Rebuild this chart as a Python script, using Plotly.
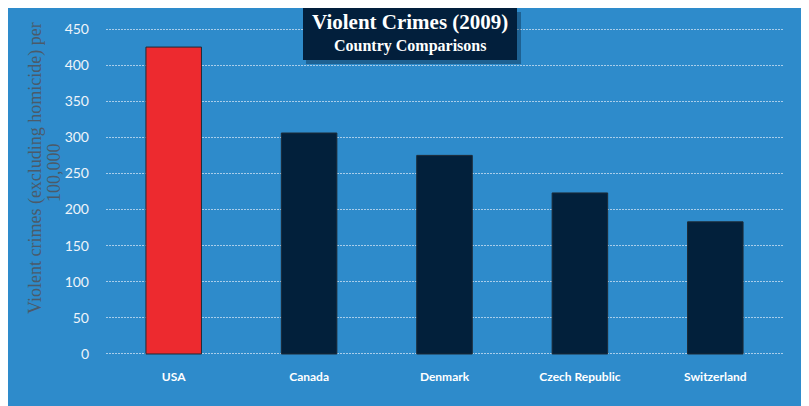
import plotly.graph_objects as go

countries = ["USA", "Canada", "Denmark", "Czech Republic", "Switzerland"]
crimes = [425, 306, 275, 223, 183]
bar_colors = ["#ed2a2f", "#02203b", "#02203b", "#02203b", "#02203b"]
y_ticks = [0, 50, 100, 150, 200, 250, 300, 350, 400, 450]

W, H = 809, 406
OFF = 8  # page body margin offset
L, T = 98, 20
pw, ph = 677, 327
R = W - L - pw
B = H - T - ph

def px_x(p):
    return (p - OFF - L) / pw

def px_y(p):
    return (T + ph - (p - OFF)) / ph

fig = go.Figure()
fig.add_trace(go.Bar(
    x=countries, y=crimes,
    marker=dict(color=bar_colors, line=dict(color="#1e2a36", width=1)),
    width=0.41,
))

shapes = [
    dict(type="rect", xref="paper", yref="paper",
         x0=px_x(306), x1=px_x(521), y0=px_y(64), y1=px_y(12),
         fillcolor="rgba(0,20,40,0.35)", line=dict(width=0), layer="above"),
    dict(type="rect", xref="paper", yref="paper",
         x0=px_x(303), x1=px_x(517), y0=px_y(60), y1=px_y(8),
         fillcolor="#021f3c", line=dict(width=0), layer="above"),
]

annotations = [
    dict(text="<b>Violent Crimes (2009)</b>", xref="paper", yref="paper",
         x=px_x(410), y=px_y(22), xanchor="center", yanchor="middle",
         showarrow=False, font=dict(family="Liberation Serif", size=21, color="white")),
    dict(text="<b>Country Comparisons</b>", xref="paper", yref="paper",
         x=px_x(410), y=px_y(46), xanchor="center", yanchor="middle",
         showarrow=False, font=dict(family="Liberation Serif", size=16, color="white")),
    dict(text="Violent crimes (excluding homicide) per", xref="paper", yref="paper",
         x=px_x(36), y=px_y(168), xanchor="center", yanchor="middle", textangle=-90,
         showarrow=False, font=dict(family="Liberation Serif", size=18, color="#4b5a69")),
    dict(text="100,000", xref="paper", yref="paper",
         x=px_x(54), y=px_y(173), xanchor="center", yanchor="middle", textangle=-90,
         showarrow=False, font=dict(family="Liberation Serif", size=18, color="#4b5a69")),
]

fig.update_layout(
    width=W, height=H,
    margin=dict(l=L, r=R, t=T, b=B),
    paper_bgcolor="#2e8bcb",
    plot_bgcolor="#2e8bcb",
    showlegend=False,
    shapes=shapes,
    annotations=annotations,
    xaxis=dict(
        showgrid=False, showline=False, ticks="",
        tickfont=dict(family="Lato", size=12, color="white", weight="bold"),
        ticklabelstandoff=13,
    ),
    yaxis=dict(
        range=[-1.4, 451.4], tickvals=y_ticks,
        showgrid=True, gridcolor="#a9cdea", gridwidth=1, griddash="2px,1px",
        zeroline=False, showline=False,
        tickfont=dict(family="Lato", size=14, color="#eef4fa"),
        ticklabelstandoff=16,
    ),
)

fig.write_html("out.html")
